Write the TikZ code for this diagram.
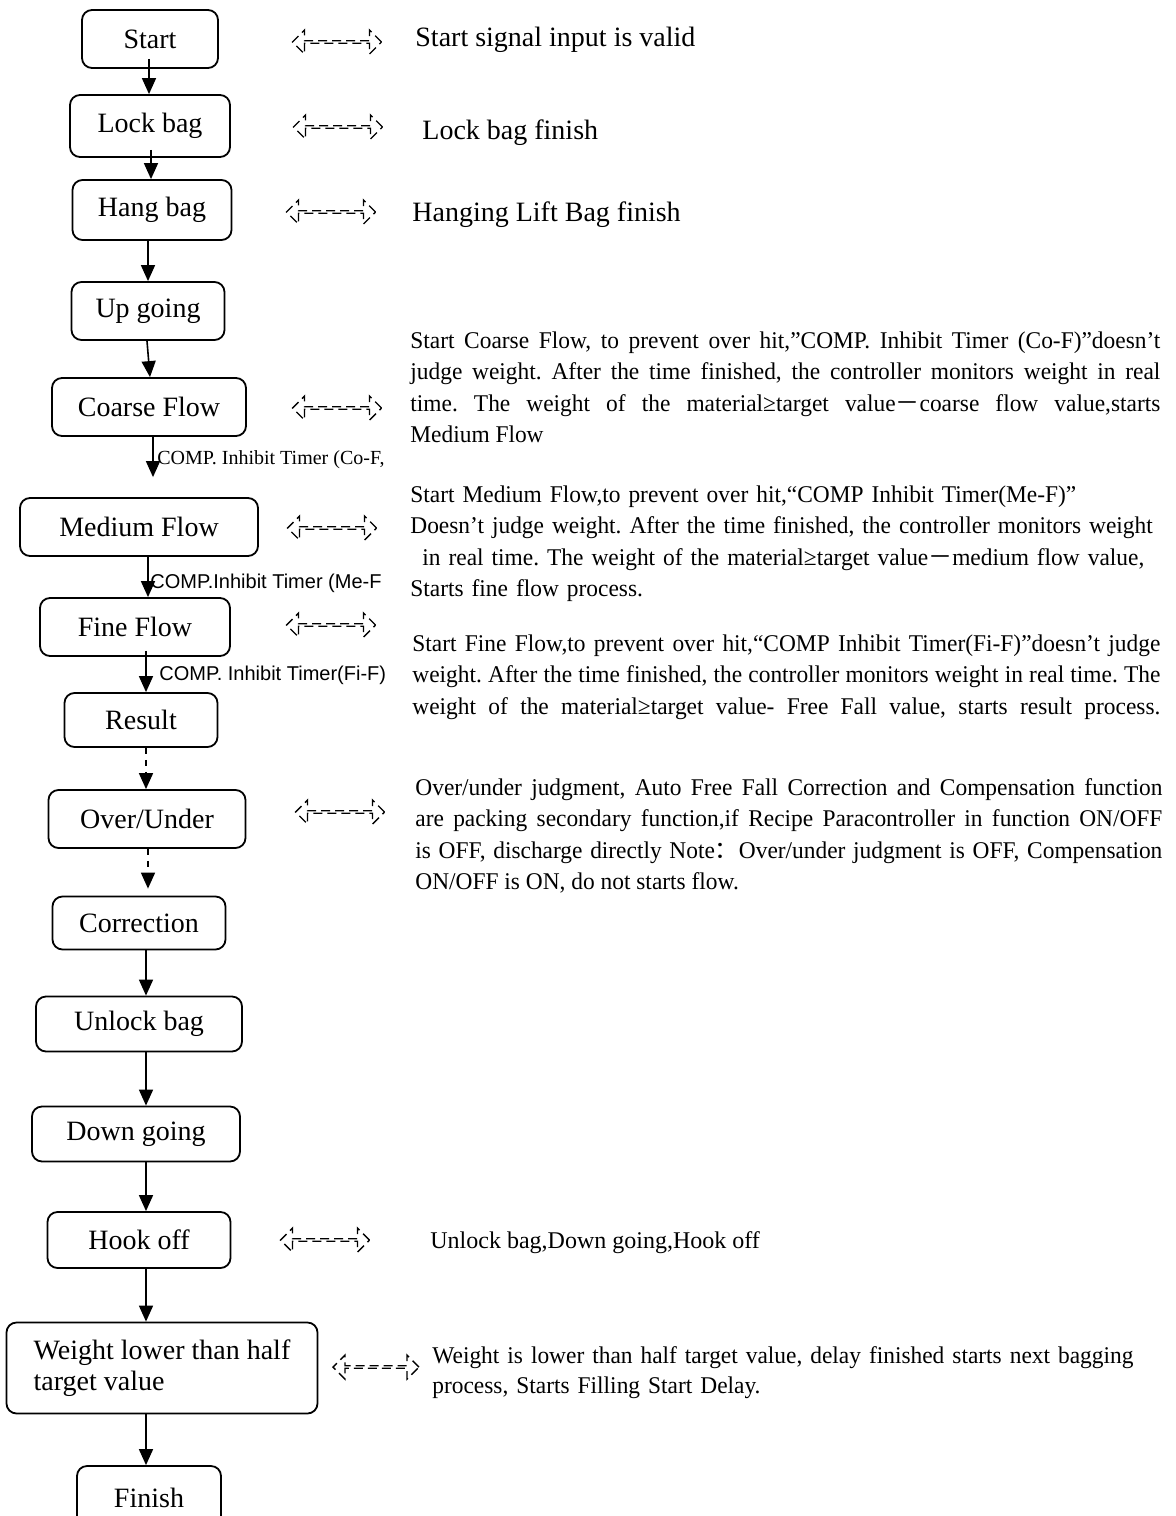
\documentclass[tikz,border=0pt]{standalone}
\usepackage{fontspec}
\setmainfont{Liberation Serif}
\newfontfamily\parafont[FakeStretch=0.975]{Liberation Serif}
\newfontfamily\labelsans{Liberation Sans}
\newfontfamily\cjk{Noto Sans CJK SC}
\usetikzlibrary{shapes.arrows,arrows.meta}
\frenchspacing

\tikzset{
  procbox/.style={draw, rounded corners=5pt, line width=0.9pt, align=center,
    font=\fontsize{14}{15.5}\selectfont, inner sep=2pt},
  flow/.style={line width=0.8pt, -{Triangle[width=7pt,length=8pt]}},
  dashflow/.style={flow, dash pattern=on 3pt off 3pt},
  dblarrow/.style={double arrow, draw, dash pattern=on 4.5pt off 2.5pt, line width=0.7pt,
    minimum height=44.5pt, minimum width=12pt, double arrow head extend=3pt, inner sep=0pt},
  note/.style={anchor=west, inner sep=0pt, font=\fontsize{14}{16}\selectfont},
  para/.style={anchor=north west, inner sep=0pt, text width=375pt, align=justify,
    font=\parafont\fontsize{12}{15.75}\selectfont},
  timer/.style={anchor=west, inner sep=0pt, font=\labelsans\fontsize{10}{12}\selectfont},
}

\begin{document}
\begin{tikzpicture}[x=0.5pt,y=-0.5pt]
\useasboundingbox (0,0) rectangle (1176,1516);

% main chain of steps
\node[procbox, minimum width=68pt, minimum height=29pt] (start) at (150,39) {Start};
\node[procbox, minimum width=80pt, minimum height=31pt] (lockbag) at (150,126) {Lock bag};
\node[procbox, minimum width=79.5pt, minimum height=30pt] (hangbag) at (152,210) {Hang bag};
\node[procbox, minimum width=76.5pt, minimum height=29pt] (upgoing) at (148,311) {Up going};
\node[procbox, minimum width=97pt, minimum height=29pt] (coarse) at (149,407) {Coarse Flow};
\node[procbox, minimum width=119pt, minimum height=29pt] (medium) at (139,527) {Medium Flow};
\node[procbox, minimum width=95pt, minimum height=29pt] (fine) at (135,627) {Fine Flow};
\node[procbox, minimum width=76.5pt, minimum height=27pt] (result) at (141,720) {Result};
\node[procbox, minimum width=98.5pt, minimum height=29pt] (overunder) at (147,819) {Over/Under};
\node[procbox, minimum width=86.5pt, minimum height=26.5pt] (correction) at (139,923) {Correction};
\node[procbox, minimum width=103pt, minimum height=27.5pt] (unlock) at (139,1024) {Unlock bag};
\node[procbox, minimum width=104pt, minimum height=27.5pt] (downgoing) at (136,1134) {Down going};
\node[procbox, minimum width=91.5pt, minimum height=28pt] (hookoff) at (139,1240) {Hook off};
\node[procbox, minimum width=155.5pt, minimum height=45.5pt, align=left] (weight) at (162,1368)
  {Weight lower than half\\target value};
\node[procbox, minimum width=72pt, minimum height=32pt] (finish) at (149,1498) {Finish};

% arrows run down one spine
\coordinate (spine) at (147,0);
\draw[flow, shorten <=-5pt] ([xshift=1pt]start.south -| spine) -- ([xshift=1pt]lockbag.north -| spine);
\draw[flow, shorten <=-4pt] ([xshift=2pt]lockbag.south -| spine) -- ([xshift=2pt]hangbag.north -| spine);
\draw[flow] ([xshift=0.5pt]hangbag.south -| spine) -- ([xshift=0.5pt]upgoing.north -| spine);
\draw[flow] (upgoing.south -| spine) -- ([xshift=1.5pt]coarse.north -| spine);
\draw[flow, shorten >=10pt] ([xshift=3pt]coarse.south -| spine) -- ([xshift=3pt]medium.north -| spine);
\draw[flow] ([xshift=0.5pt]medium.south -| spine) -- ([xshift=0.5pt]fine.north -| spine);
\draw[flow, shorten <=-3pt] ([xshift=-0.5pt]fine.south -| spine) -- ([xshift=-0.5pt]result.north -| spine);
\draw[dashflow] ([xshift=-0.5pt]result.south -| spine) -- ([xshift=-0.5pt]overunder.north -| spine);
\draw[dashflow, shorten >=3.5pt] ([xshift=0.5pt]overunder.south -| spine) -- ([xshift=0.5pt]correction.north -| spine);
\draw[flow] ([xshift=-0.5pt]correction.south -| spine) -- ([xshift=-0.5pt]unlock.north -| spine);
\draw[flow] ([xshift=-0.5pt]unlock.south -| spine) -- ([xshift=-0.5pt]downgoing.north -| spine);
\draw[flow] ([xshift=-0.5pt]downgoing.south -| spine) -- ([xshift=-0.5pt]hookoff.north -| spine);
\draw[flow] ([xshift=-0.5pt]hookoff.south -| spine) -- ([xshift=-0.5pt]weight.north -| spine);
\draw[flow] ([xshift=-0.5pt]weight.south -| spine) -- ([xshift=-0.5pt]finish.north -| spine);

% inhibit timer labels
\node[timer, font=\fontsize{10}{12}\selectfont] (cof) at (157,460) {COMP. Inhibit Timer (Co-F,};
\node[timer] (mef) at (150,583) {COMP.Inhibit Timer (Me-F};
\node[timer] (fif) at (159,675) {COMP. Inhibit Timer(Fi-F)};

% dashed double arrows
\node[dblarrow] (dstart) at (337,42) {};
\node[dblarrow] (dlock) at (338,127) {};
\node[dblarrow] (dhang) at (331,212) {};
\node[dblarrow] (dcoarse) at (337,408) {};
\node[dblarrow] (dmedium) at (332,528) {};
\node[dblarrow] (dfine) at (331,625) {};
\node[dblarrow] (dover) at (340,812) {};
\node[dblarrow] (dhook) at (325,1240) {};
\node[dblarrow, minimum height=43pt] (dweight) at (376,1367) {};

% descriptions
\node[note] (tstart) at (415,40) {Start signal input is valid};
\node[note] (tlock) at (422,133) {Lock bag finish};
\node[note] (thang) at (412,215) {Hanging Lift Bag finish};

\node[para] (tcoarse) at (410,331) {Start Coarse Flow, to prevent over hit,”COMP. Inhibit Timer (Co-F)”doesn’t\linebreak
  judge weight. After the time finished, the controller monitors weight in real\linebreak
  time. The weight of the material≥target value{\cjk －}coarse flow value,starts\linebreak
  Medium Flow};

\node[para, align=left, text width=385pt] (tmedium) at (410,485) {Start Medium Flow,to prevent over hit,“COMP Inhibit Timer(Me-F)”\\
  Doesn’t judge weight. After the time finished, the controller monitors weight\\
  \hspace*{6pt}in real time. The weight of the material≥target value{\cjk －}medium flow value,\\
  Starts fine flow process.};

\node[para, text width=374pt] (tfine) at (412,634) {Start Fine Flow,to prevent over hit,“COMP Inhibit Timer(Fi-F)”doesn’t judge\linebreak
  weight. After the time finished, the controller monitors weight in real time. The\linebreak
  weight of the material≥target value- Free Fall value, starts result process.\parfillskip=0pt\par};

\node[para, text width=373.5pt] (tover) at (415,778) {Over/under judgment, Auto Free Fall Correction and Compensation function\linebreak
  are packing secondary function,if Recipe Paracontroller in function ON/OFF\linebreak
  is OFF, discharge directly Note{\cjk ：}Over/under judgment is OFF, Compensation\linebreak
  ON/OFF is ON, do not starts flow.};

\node[note, font=\fontsize{12}{15}\selectfont] (thook) at (430,1243) {Unlock bag,Down going,Hook off};

\node[para, align=left, text width=390pt, font=\parafont\fontsize{12}{15}\selectfont] (tweight) at (432,1346)
  {Weight is lower than half target value, delay finished starts next bagging\\
  process, Starts Filling Start Delay.};

\end{tikzpicture}
\end{document}
